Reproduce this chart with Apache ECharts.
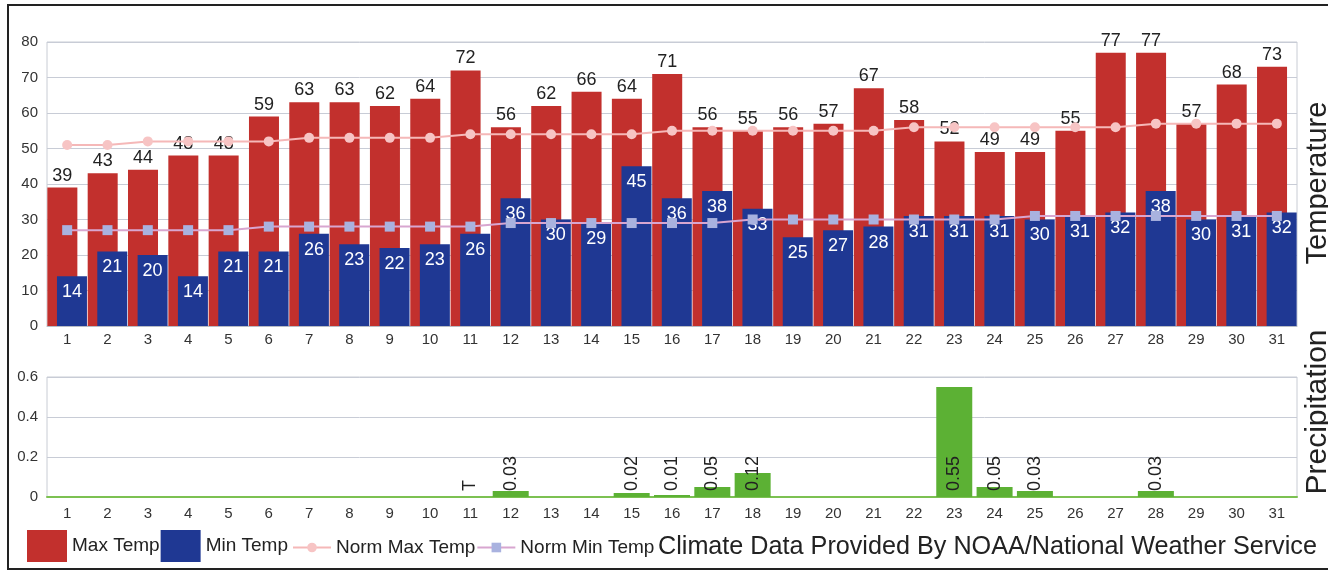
<!DOCTYPE html>
<html>
<head>
<meta charset="utf-8">
<script src="https://cdn.jsdelivr.net/npm/echarts@6/dist/echarts.min.js"></script>
<style>
html,body{margin:0;padding:0;background:#fff;}
#c{width:1328px;height:571px;}
</style>
</head>
<body>
<div id="c"></div>
<script>
const days = ['1','2','3','4','5','6','7','8','9','10','11','12','13','14','15','16','17','18','19','20','21','22','23','24','25','26','27','28','29','30','31'];
const maxTemp = [39,43,44,48,48,59,63,63,62,64,72,56,62,66,64,71,56,55,56,57,67,58,52,49,49,55,77,77,57,68,73];
const minTemp = [14,21,20,14,21,21,26,23,22,23,26,36,30,29,45,36,38,33,25,27,28,31,31,31,30,31,32,38,30,31,32];
const normMax = [51,51,52,52,52,52,53,53,53,53,54,54,54,54,54,55,55,55,55,55,55,56,56,56,56,56,56,57,57,57,57];
const normMin = [27,27,27,27,27,28,28,28,28,28,28,29,29,29,29,29,29,30,30,30,30,30,30,30,31,31,31,31,31,31,31];
const precip = [0,0,0,0,0,0,0,0,0,0,0,0.03,0,0,0.02,0.01,0.05,0.12,0,0,0,0,0.55,0.05,0.03,0,0,0.03,0,0,0];
const precipLabels = ['','','','','','','','','','','T','0.03','','','0.02','0.01','0.05','0.12','','','','','0.55','0.05','0.03','','','0.03','','',''];
const tempTicks = [0,80,10];
const precipTicks = [0,0.6,0.2];

const FONT = 'Liberation Sans, Arial, sans-serif';
const chart = echarts.init(document.getElementById('c'));
const option = {
  backgroundColor: '#fff',
  animation: false,
  textStyle: {fontFamily: FONT},
  grid: [
    {left: 47, right: 31, top: 42, height: 284, show: true, borderColor: '#c8ccd4', borderWidth: 1},
    {left: 47, right: 31, top: 377, height: 120, show: true, borderColor: '#c8ccd4', borderWidth: 1}
  ],
  legend: [
    {left: 27, top: 530, padding: 0, data: ['Max Temp','Min Temp'], icon: 'rect', itemWidth: 40, itemHeight: 32, itemGap: 1,
     textStyle: {fontSize: 19, color: '#222', fontFamily: FONT}},
    {left: 292, top: 538, padding: 0, data: ['Norm Max Temp','Norm Min Temp'], itemWidth: 38, itemHeight: 12, itemGap: 1,
     textStyle: {fontSize: 19, color: '#222', fontFamily: FONT}}
  ],
  xAxis: [
    {type: 'category', gridIndex: 0, data: days, axisTick: {show: false},
     axisLine: {lineStyle: {color: '#b8bcc4'}},
     axisLabel: {fontSize: 15, color: '#333', margin: 6, fontFamily: FONT}},
    {type: 'category', gridIndex: 1, data: days, axisTick: {show: false},
     axisLine: {lineStyle: {color: '#7cc152', width: 2}},
     axisLabel: {fontSize: 15, color: '#333', margin: 9, fontFamily: FONT}}
  ],
  yAxis: [
    {type: 'value', gridIndex: 0, min: tempTicks[0], max: tempTicks[1], interval: tempTicks[2],
     axisLine: {show: false}, axisTick: {show: false},
     splitLine: {lineStyle: {color: '#c8ccd6'}},
     axisLabel: {fontSize: 15, color: '#333', margin: 9, fontFamily: FONT}},
    {type: 'value', gridIndex: 1, min: precipTicks[0], max: precipTicks[1], interval: precipTicks[2],
     axisLine: {show: false}, axisTick: {show: false},
     splitLine: {lineStyle: {color: '#c8ccd6'}},
     axisLabel: {fontSize: 15, color: '#333', margin: 9, fontFamily: FONT,
       formatter: v => (v === 0 ? '0' : v.toFixed(1))}}
  ],
  series: [
    {name: 'Max Temp', type: 'bar', xAxisIndex: 0, yAxisIndex: 0, data: maxTemp,
     barWidth: 30, barGap: '-68%',
     itemStyle: {color: '#c2302d'},
     label: {show: true, position: 'top', distance: 3, fontSize: 18, color: '#222', fontFamily: FONT}},
    {name: 'Min Temp', type: 'bar', xAxisIndex: 0, yAxisIndex: 0, data: minTemp,
     barWidth: 30,
     itemStyle: {color: '#1f3893'},
     label: {show: true, position: 'insideTop', distance: 7, fontSize: 18, color: '#fff', fontFamily: FONT}},
    {name: 'Norm Max Temp', type: 'line', xAxisIndex: 0, yAxisIndex: 0, data: normMax,
     symbol: 'circle', symbolSize: 10, z: 5,
     lineStyle: {color: '#f5b8b8', width: 2},
     itemStyle: {color: '#f7c4c4'}},
    {name: 'Norm Min Temp', type: 'line', xAxisIndex: 0, yAxisIndex: 0, data: normMin,
     symbol: 'rect', symbolSize: 10, z: 5,
     lineStyle: {color: '#d8a6d0', width: 2},
     itemStyle: {color: '#a9b2df'}},
    {name: 'Precipitation', type: 'bar', xAxisIndex: 1, yAxisIndex: 1, data: precip,
     barWidth: 36,
     itemStyle: {color: '#5cb134'},
     label: {show: true, position: 'insideBottom', rotate: 90, align: 'left', verticalAlign: 'middle',
       distance: 6, fontSize: 18, color: '#222', fontFamily: FONT,
       formatter: p => precipLabels[p.dataIndex]}}
  ],
  graphic: [
    {type: 'text', left: 658, top: 535, style: {text: 'Climate Data Provided By NOAA/National Weather Service',
      font: '25.2px Liberation Sans, Arial, sans-serif', fill: '#222'}},
    {type: 'text', x: 1318, y: 183, rotation: Math.PI/2,
     style: {text: 'Temperature', font: '29px Liberation Sans, Arial, sans-serif', fill: '#222', align: 'center', verticalAlign: 'middle'}},
    {type: 'text', x: 1318, y: 412, rotation: Math.PI/2,
     style: {text: 'Precipitation', font: '30px Liberation Sans, Arial, sans-serif', fill: '#222', align: 'center', verticalAlign: 'middle'}},
    {type: 'rect', shape: {x: 8, y: 5, width: 1330, height: 564}, style: {fill: 'none', stroke: '#222', lineWidth: 2}, silent: true}
  ]
};
chart.setOption(option);
</script>
</body>
</html>
